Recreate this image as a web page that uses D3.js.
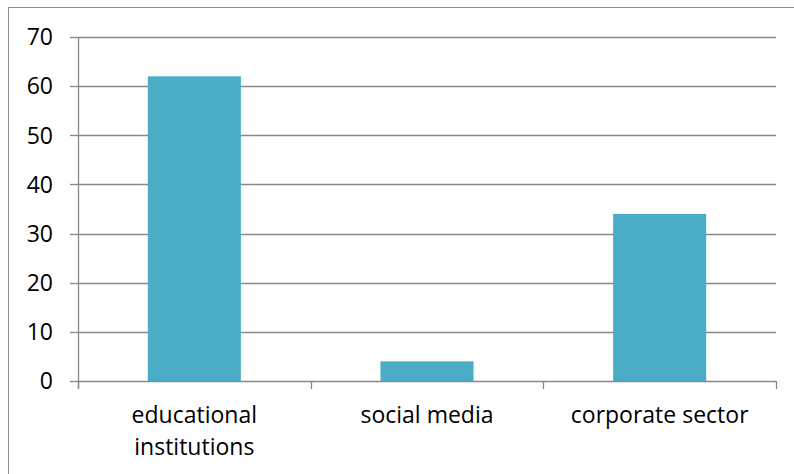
<!DOCTYPE html>
<html>
<head>
<meta charset="utf-8">
<script src="https://cdn.jsdelivr.net/npm/d3@7"></script>
<style>
  html, body { margin: 0; padding: 0; background: #fff; }
  svg { display: block; }
  text { font-family: "Open Sans", Lato, sans-serif; fill: #000; }
</style>
</head>
<body>
<svg id="chart" width="794" height="474"></svg>
<script>
// Categories and values
const categories = [["educational", "institutions"], ["social media"], ["corporate sector"]];
const values = [62, 4, 34];
const yTicks = [0, 10, 20, 30, 40, 50, 60, 70];

const svg = d3.select("#chart");
const W = 794, H = 474;
const margin = { left: 78, right: 18, top: 37, bottom: 93 };
const plotW = W - margin.left - margin.right;
const plotH = H - margin.top - margin.bottom;

// Outer chart border
svg.append("rect")
  .attr("x", 8.5).attr("y", 7.5)
  .attr("width", W).attr("height", H)
  .attr("fill", "none").attr("stroke", "#8c8c8c").attr("stroke-width", 1);

const g = svg.append("g").attr("transform", `translate(${margin.left},${margin.top})`);

const keys = categories.map(c => c.join(" "));
const x = d3.scaleBand().domain(keys).range([0, plotW]).paddingInner(0.6).paddingOuter(0.3);
const xCat = d3.scaleBand().domain(keys).range([0, plotW]).padding(0);
const y = d3.scaleLinear().domain([0, 70]).range([plotH, 0]);

// Horizontal gridlines
g.selectAll("line.grid").data(yTicks).enter().append("line")
  .attr("class", "grid")
  .attr("x1", 0).attr("x2", plotW)
  .attr("y1", d => Math.round(y(d)) + 0.5).attr("y2", d => Math.round(y(d)) + 0.5)
  .attr("stroke", "#888").attr("stroke-width", 1.3);

// Bars
g.selectAll("rect.bar").data(values).enter().append("rect")
  .attr("class", "bar")
  .attr("x", (d, i) => x(keys[i]))
  .attr("width", x.bandwidth())
  .attr("y", d => y(d))
  .attr("height", d => y(0) - y(d))
  .attr("fill", "#4bacc6");

// Y axis line and ticks
g.append("line").attr("x1", 0.5).attr("x2", 0.5).attr("y1", 0).attr("y2", plotH + 8)
  .attr("stroke", "#888").attr("stroke-width", 1.3);
g.selectAll("line.ytick").data(yTicks).enter().append("line")
  .attr("class", "ytick")
  .attr("x1", -8).attr("x2", 0)
  .attr("y1", d => Math.round(y(d)) + 0.5).attr("y2", d => Math.round(y(d)) + 0.5)
  .attr("stroke", "#888").attr("stroke-width", 1.3);
g.selectAll("text.ylab").data(yTicks).enter().append("text")
  .attr("class", "ylab")
  .attr("x", -25).attr("y", d => y(d))
  .attr("dy", "0.36em")
  .attr("text-anchor", "end")
  .attr("font-size", 23)
  .text(d => d);

// X axis category boundary ticks
const bounds = keys.map(k => xCat(k)).concat([plotW]);
g.selectAll("line.xtick").data(bounds).enter().append("line")
  .attr("class", "xtick")
  .attr("x1", d => Math.round(d) + 0.5).attr("x2", d => Math.round(d) + 0.5)
  .attr("y1", plotH).attr("y2", plotH + 8)
  .attr("stroke", "#888").attr("stroke-width", 1.3);

// Category labels
categories.forEach((lines, i) => {
  const cx = xCat(keys[i]) + xCat.bandwidth() / 2;
  const t = g.append("text")
    .attr("x", cx).attr("y", plotH + 42)
    .attr("text-anchor", "middle")
    .attr("font-size", 23);
  lines.forEach((ln, j) => {
    t.append("tspan").attr("x", cx).attr("dy", j === 0 ? 0 : 32).text(ln);
  });
});
</script>
</body>
</html>
